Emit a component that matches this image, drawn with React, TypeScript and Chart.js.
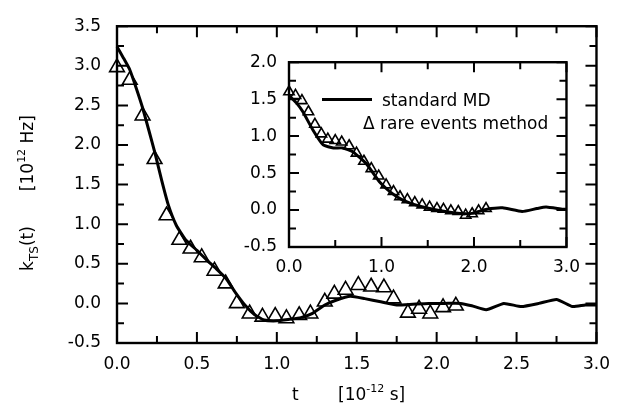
import React, { useEffect, useRef } from "react";
import { Chart, registerables } from "chart.js";

Chart.register(...registerables);

// ---- data (t in 1e-12 s, k_TS in 1e12 Hz) ----
const mainMdT = [0, 0.04, 0.08, 0.12, 0.16, 0.2, 0.24, 0.28, 0.32, 0.37, 0.43, 0.5, 0.56, 0.62, 0.68, 0.74, 0.8, 0.86, 0.92, 1.0, 1.08, 1.15, 1.22, 1.3, 1.37, 1.46, 1.55, 1.65, 1.75, 1.85, 1.95, 2.05, 2.15, 2.22, 2.31, 2.42, 2.53, 2.64, 2.75, 2.85, 2.93, 3.0];
const mainMdK = [3.24, 3.1, 2.95, 2.72, 2.47, 2.18, 1.88, 1.55, 1.25, 0.99, 0.8, 0.67, 0.55, 0.44, 0.32, 0.14, -0.02, -0.14, -0.21, -0.22, -0.2, -0.18, -0.13, -0.02, 0.04, 0.09, 0.06, 0.02, -0.02, -0.01, 0.0, 0.0, 0.0, -0.03, -0.08, 0.0, -0.04, 0.0, 0.05, -0.04, -0.02, -0.02];

const mainRareT = [0, 0.08, 0.16, 0.235, 0.31, 0.39, 0.46, 0.53, 0.61, 0.68, 0.75, 0.83, 0.91, 0.99, 1.06, 1.14, 1.21, 1.3, 1.36, 1.43, 1.51, 1.59, 1.67, 1.73, 1.82, 1.89, 1.96, 2.04, 2.12];
const mainRareK = [2.98, 2.82, 2.37, 1.82, 1.11, 0.8, 0.69, 0.58, 0.41, 0.25, 0.0, -0.13, -0.17, -0.16, -0.19, -0.15, -0.13, 0.02, 0.12, 0.17, 0.23, 0.21, 0.2, 0.06, -0.12, -0.07, -0.13, -0.05, -0.03];

const insetMdT = [0, 0.08, 0.15, 0.26, 0.37, 0.48, 0.58, 0.69, 0.84, 0.98, 1.1, 1.22, 1.34, 1.52, 1.74, 1.95, 2.14, 2.31, 2.52, 2.68, 2.78, 2.96, 3.0];
const insetMdK = [1.55, 1.45, 1.33, 1.08, 0.88, 0.84, 0.84, 0.79, 0.62, 0.38, 0.24, 0.14, 0.08, 0.02, -0.03, -0.05, 0.01, 0.03, -0.02, 0.02, 0.04, 0.01, 0.01];

const insetRareT = [0, 0.07, 0.14, 0.21, 0.28, 0.35, 0.42, 0.5, 0.57, 0.65, 0.73, 0.81, 0.89, 0.97, 1.05, 1.13, 1.2, 1.28, 1.36, 1.44, 1.52, 1.6, 1.67, 1.75, 1.83, 1.91, 1.98, 2.05, 2.13];
const insetRareK = [1.6, 1.55, 1.48, 1.33, 1.16, 1.03, 0.96, 0.94, 0.92, 0.87, 0.77, 0.66, 0.56, 0.46, 0.34, 0.25, 0.18, 0.14, 0.1, 0.07, 0.04, 0.02, 0.01, -0.01, -0.02, -0.07, -0.05, -0.01, 0.02];

const legendLine = "standard MD";
const legendMarker = "\u0394 rare events method";
const mainXRange = [0, 3];
const mainYRange = [-0.5, 3.5];
const insetXRange = [0, 3];
const insetYRange = [-0.5, 2.0];

const FONT = "'DejaVu Sans', sans-serif";

const pts = (xs: number[], ys: number[]) => xs.map((x, i) => ({ x, y: ys[i] }));

const frameTicks = {
  id: "frameTicks",
  afterDatasetsDraw(chart: any, _args: any, opts: any) {
    const { ctx, chartArea: a, scales } = chart;
    const xs = scales.x;
    const ys = scales.y;
    ctx.save();
    ctx.strokeStyle = "#000";
    ctx.lineWidth = opts.tickWidth;
    ctx.beginPath();
    const isMajor = (v: number, major: number) =>
      Math.abs(v / major - Math.round(v / major)) < 1e-6;
    for (let v = xs.min; v <= xs.max + 1e-9; v += opts.xMinor) {
      const len = isMajor(v, opts.xMajor) ? opts.majorLen : opts.minorLen;
      const px = xs.getPixelForValue(v);
      ctx.moveTo(px, a.bottom);
      ctx.lineTo(px, a.bottom - len);
      ctx.moveTo(px, a.top);
      ctx.lineTo(px, a.top + len);
    }
    for (let v = ys.min; v <= ys.max + 1e-9; v += opts.yMinor) {
      const len = isMajor(v, opts.yMajor) ? opts.majorLen : opts.minorLen;
      const py = ys.getPixelForValue(v);
      ctx.moveTo(a.left, py);
      ctx.lineTo(a.left + len, py);
      ctx.moveTo(a.right, py);
      ctx.lineTo(a.right - len, py);
    }
    ctx.stroke();
    ctx.lineWidth = opts.frameWidth;
    ctx.strokeRect(a.left, a.top, a.right - a.left, a.bottom - a.top);
    ctx.restore();
  },
};

function makeConfig(p: {
  mdT: number[]; mdK: number[]; rT: number[]; rK: number[];
  xr: number[]; yr: number[]; xStep: number; yStep: number;
  xMinor: number; yMinor: number; yWidth: number; xHeight: number;
  pad: any; xPad: number; yPad: number; r: number; lw: number;
  majorLen: number; minorLen: number;
}) {
  const tickFont = { family: FONT, size: 17 };
  return {
    type: "line" as const,
    data: {
      datasets: [
        {
          label: "rare events method",
          data: pts(p.rT, p.rK),
          showLine: false,
          pointStyle: "triangle",
          pointRadius: p.r,
          pointBorderWidth: 1.6,
          pointBorderColor: "#000",
          pointBackgroundColor: "rgba(0,0,0,0)",
          borderColor: "#000",
          backgroundColor: "rgba(0,0,0,0)",
          clip: false,
        },
        {
          label: "standard MD",
          data: pts(p.mdT, p.mdK),
          borderColor: "#000",
          borderWidth: p.lw,
          pointRadius: 0,
          tension: 0.15,
          fill: false,
          clip: false,
        },
      ],
    },
    options: {
      responsive: false,
      animation: false,
      events: [],
      layout: { padding: p.pad },
      plugins: {
        legend: { display: false },
        tooltip: { enabled: false },
        frameTicks: {
          xMinor: p.xMinor, xMajor: p.xStep, yMinor: p.yMinor, yMajor: p.yStep,
          majorLen: p.majorLen, minorLen: p.minorLen, tickWidth: 2, frameWidth: 2.4,
        },
      },
      scales: {
        x: {
          type: "linear",
          min: p.xr[0],
          max: p.xr[1],
          grid: { display: false, drawTicks: false },
          border: { display: false },
          ticks: {
            stepSize: p.xStep,
            autoSkip: false,
            maxRotation: 0,
            color: "#000",
            font: tickFont,
            padding: p.xPad,
            callback: (v: any) => Number(v).toFixed(1),
          },
          afterFit: (s: any) => { s.height = p.xHeight; },
        },
        y: {
          type: "linear",
          min: p.yr[0],
          max: p.yr[1],
          grid: { display: false, drawTicks: false },
          border: { display: false },
          ticks: {
            stepSize: p.yStep,
            autoSkip: false,
            color: "#000",
            font: tickFont,
            padding: p.yPad,
            callback: (v: any) => Number(v).toFixed(1),
          },
          afterFit: (s: any) => { s.width = p.yWidth; },
        },
      },
    },
    plugins: [frameTicks],
  };
}

export default function App() {
  const mainRef = useRef<HTMLCanvasElement>(null);
  const insetRef = useRef<HTMLCanvasElement>(null);

  useEffect(() => {
    const main = new Chart(mainRef.current as HTMLCanvasElement, makeConfig({
      mdT: mainMdT, mdK: mainMdK, rT: mainRareT, rK: mainRareK,
      xr: mainXRange, yr: mainYRange, xStep: 0.5, yStep: 0.5, xMinor: 0.25, yMinor: 0.25,
      yWidth: 117, xHeight: 62, pad: { left: 0, top: 21, right: 18, bottom: 0 },
      xPad: 11, yPad: 16, r: 8.5, lw: 3, majorLen: 11, minorLen: 7,
    }) as any);
    const inset = new Chart(insetRef.current as HTMLCanvasElement, makeConfig({
      mdT: insetMdT, mdK: insetMdK, rT: insetRareT, rK: insetRareK,
      xr: insetXRange, yr: insetYRange, xStep: 1.0, yStep: 0.5, xMinor: 0.5, yMinor: 0.25,
      yWidth: 59, xHeight: 43, pad: { left: 0, top: 18, right: 22, bottom: 0 },
      xPad: 10, yPad: 12, r: 6, lw: 3, majorLen: 10, minorLen: 7,
    }) as any);
    return () => {
      main.destroy();
      inset.destroy();
    };
  }, []);

  const txt: React.CSSProperties = {
    position: "absolute",
    fontFamily: FONT,
    fontSize: 17,
    lineHeight: "17px",
    color: "#000",
    whiteSpace: "nowrap",
  };
  const sup: React.CSSProperties = { fontSize: 11, position: "relative", top: -8 };
  const sub: React.CSSProperties = { fontSize: 12, position: "relative", top: 5 };

  return (
    <div style={{ position: "fixed", left: 0, top: 0, width: 621, height: 405, background: "#fff", overflow: "hidden" }}>
      <canvas ref={mainRef} width={621} height={405} style={{ position: "absolute", left: 0, top: 0 }} />
      <canvas ref={insetRef} width={360} height={250} style={{ position: "absolute", left: 230, top: 40 }} />
      {/* inset legend */}
      <div style={{ position: "absolute", left: 322, top: 98, width: 50, height: 3, background: "#000" }} />
      <div style={{ ...txt, left: 382, top: 92 }}>{legendLine}</div>
      <div style={{ ...txt, left: 363, top: 115 }}>{legendMarker}</div>
      {/* x title */}
      <div style={{ ...txt, left: 292, top: 386 }}>t</div>
      <div style={{ ...txt, left: 338, top: 386 }}>
        [10<span style={sup}>-12</span> s]
      </div>
      {/* y title */}
      <div
        style={{
          ...txt,
          left: 27 - 110,
          top: 193 - 10,
          width: 220,
          height: 20,
          lineHeight: "20px",
          textAlign: "center",
          transform: "rotate(-90deg)",
        }}
      >
        k<span style={sub}>TS</span>(t)
        <span style={{ display: "inline-block", width: 35 }} />
        [10<span style={sup}>12</span> Hz]
      </div>
    </div>
  );
}
